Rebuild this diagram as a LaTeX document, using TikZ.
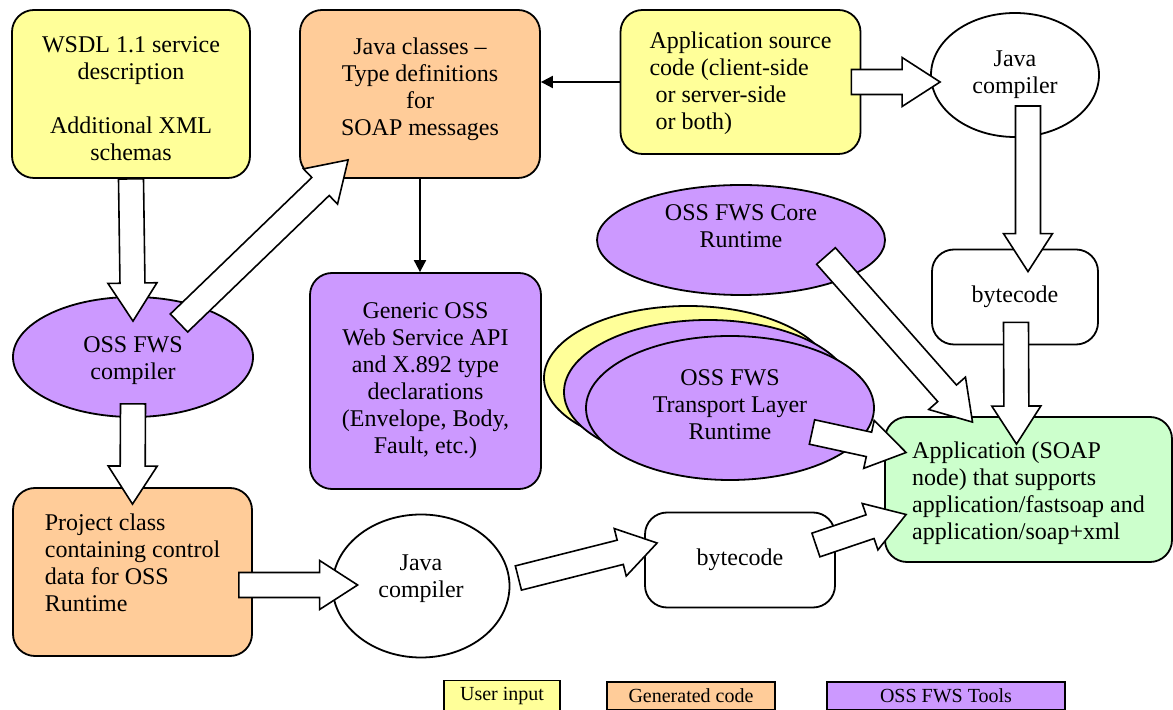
\documentclass[tikz,border=0pt]{standalone}
\usepackage{fontspec}
\setmainfont{Liberation Serif}
\usepackage{xcolor}
\usetikzlibrary{arrows.meta,positioning,shapes.geometric,calc}

\definecolor{userin}{HTML}{FFFF99}
\definecolor{gencode}{HTML}{FFCC99}
\definecolor{osstool}{HTML}{CC99FF}
\definecolor{appnode}{HTML}{CCFFCC}

% pad the first line (push text down) or the last line (push text up)
\newcommand\padtop[1]{\rule{0pt}{#1}}
\newcommand\padbot[1]{\rule[-#1]{0pt}{#1}}

\newcommand\fatarrow[2]{%
  \draw[fatarrow] let \p1=($(#2)-(#1)$), \n1={atan2(\y1,\x1)}, \n2={veclen(\x1,\y1)-19} in
    ($(#1)+(\n1-90:6.25pt)$) -- ++(\n1:\n2) -- ++(\n1-90:6pt) -- (#2)
    -- ($(#1)+(\n1:\n2)+(\n1+90:12.25pt)$) -- ++(\n1-90:6pt)
    -- ($(#1)+(\n1+90:6.25pt)$) -- cycle;}

\begin{document}
\begin{tikzpicture}[x=0.5pt, y=-0.5pt,
    every node/.style={font=\fontsize{12}{13.5}\selectfont},
    roundbox/.style={draw, line width=0.9pt, rounded corners=11pt, align=center},
    oval/.style={draw, line width=0.9pt, ellipse, align=center, inner sep=1pt},
    fatarrow/.style={draw, fill=white, line width=0.8pt, line join=miter},
    thinarrow/.style={line width=1pt, -{Triangle[length=6pt,width=6pt]}},
    legendbox/.style={draw, line width=0.9pt, minimum height=13.5pt,
      font=\fontsize{10}{12}\selectfont}]
    \useasboundingbox (0,0) rectangle (1173,710);

    % Inputs and generated code
    \node[roundbox, fill=userin, minimum width=119pt, minimum height=84pt] (wsdl) at (131,94)
      {\padtop{13pt}WSDL 1.1 service\\description\\[13.5pt]Additional XML\\schemas};
    \node[roundbox, fill=gencode, minimum width=120pt, minimum height=84pt] (javacls) at (420,94)
      {Java classes --\\Type definitions\\for\\SOAP messages\padbot{7.6pt}};
    \node[roundbox, fill=userin, minimum width=120pt, minimum height=72pt, align=left] (appsrc) at (740.5,82)
      {\padtop{10pt}Application source\\code (client-side\\\ or server-side\\\ or both)};
    \node[oval, minimum width=84pt, minimum height=62pt] (javacA) at (1015,75) {Java\\compiler};

    % Tools
    \node[oval, fill=osstool, minimum width=120pt, minimum height=60pt] (compiler) at (133,357)
      {\padtop{12pt}OSS FWS\\compiler};
    \node[roundbox, fill=osstool, minimum width=115.5pt, minimum height=108pt] (generic) at (425.5,381)
      {Generic OSS\\Web Service API\\and X.892 type\\declarations\\(Envelope, Body,\\Fault, etc.)};
    \node[oval, fill=osstool, minimum width=144pt, minimum height=55pt] (core) at (741,240)
      {OSS FWS Core\\Runtime\padbot{14pt}};
    \node[roundbox, minimum width=83pt, minimum height=47.5pt] (bytecodeA) at (1015,297) {bytecode};

    % Transport layer stack
    \node[oval, fill=userin, minimum width=144pt, minimum height=72pt] (stackA) at (688,378) {};
    \node[oval, fill=osstool, minimum width=144pt, minimum height=72pt] (stackB) at (708,392) {};
    \node[oval, fill=osstool, minimum width=144pt, minimum height=72pt] (transport) at (730,408)
      {OSS FWS\\Transport Layer\\Runtime\padbot{3pt}};

    % Application
    \node[roundbox, fill=appnode, minimum width=143.5pt, minimum height=72.5pt, align=left] (app) at (1028.5,489.5)
      {\padtop{12pt}Application (SOAP\\node) that supports\\application/fastsoap and\\application/soap+xml};

    % Bottom row
    \node[roundbox, fill=gencode, minimum width=119.5pt, minimum height=84pt, align=left] (project) at (132.5,572)
      {Project class\\containing control\\data for OSS\\Runtime\padbot{9pt}};
    \node[oval, minimum width=88.5pt, minimum height=71.5pt] (javacB) at (421,586)
      {Java\\compiler\padbot{10pt}};
    \node[roundbox, minimum width=95pt, minimum height=47.5pt] (bytecodeB) at (740,560) {bytecode};

    % Legend
    \node[legendbox, fill=userin, minimum width=58pt] (lgUser) at (502,696) {User input};
    \node[legendbox, fill=gencode, minimum width=84pt] (lgGen) at (691,696) {Generated code};
    \node[legendbox, fill=osstool, minimum width=119pt] (lgTools) at (946,696) {OSS FWS Tools};

    % Thin connectors
    \draw[thinarrow] (javacls.south) -- (javacls.south |- generic.north);
    \draw[thinarrow] (appsrc.west) -- (appsrc.west -| javacls.east);

    % Block arrow ends
    \coordinate (cmpIn) at ($(compiler.north)+(0,25)$);
    \coordinate (cmpOutA) at ($(compiler.center)+(46,-34)$);
    \coordinate (clsIn) at ($(javacls.south west)+(49,-19)$);
    \coordinate (cmpOutB) at ($(compiler.south)+(0,-14)$);
    \coordinate (prjIn) at ($(project.north)+(0,17)$);
    \coordinate (prjOut) at ($(project.east)+(-14,13)$);
    \coordinate (jcBIn) at ($(javacB.west)+(26,-1)$);
    \coordinate (jcBOut) at ($(javacB.east)+(8,-8)$);
    \coordinate (bcBIn) at ($(bytecodeB.west)+(13,-17)$);
    \coordinate (bcBOut) at ($(bytecodeB.east)+(-20,-15)$);
    \coordinate (srcOut) at ($(appsrc.east)+(-10,0)$);
    \coordinate (jcAIn) at ($(javacA.west)+(10,7)$);
    \coordinate (jcAOut) at ($(javacA.center)+(13,31)$);
    \coordinate (bcAIn) at ($(bytecodeA.north)+(13,23)$);
    \coordinate (bcAOut) at ($(bytecodeA.south)+(1,-23)$);
    \coordinate (coreOut) at ($(core.center)+(85,16)$);
    \coordinate (trOut) at ($(transport.center)+(82,24)$);
    \coordinate (appInA) at ($(app.north)+(-56,6)$);
    \coordinate (appInB) at ($(app.north)+(-12,28)$);
    \coordinate (appInC) at ($(app.west)+(22,-37)$);
    \coordinate (appInD) at ($(app.west)+(22,25)$);

    % Block arrows
    \fatarrow{wsdl.south}{cmpIn}
    \fatarrow{cmpOutA}{clsIn}
    \fatarrow{cmpOutB}{prjIn}
    \fatarrow{prjOut}{jcBIn}
    \fatarrow{jcBOut}{bcBIn}
    \fatarrow{bcBOut}{appInD}
    \fatarrow{srcOut}{jcAIn}
    \fatarrow{jcAOut}{bcAIn}
    \fatarrow{bcAOut}{appInB}
    \fatarrow{coreOut}{appInA}
    \fatarrow{trOut}{appInC}
\end{tikzpicture}
\end{document}
